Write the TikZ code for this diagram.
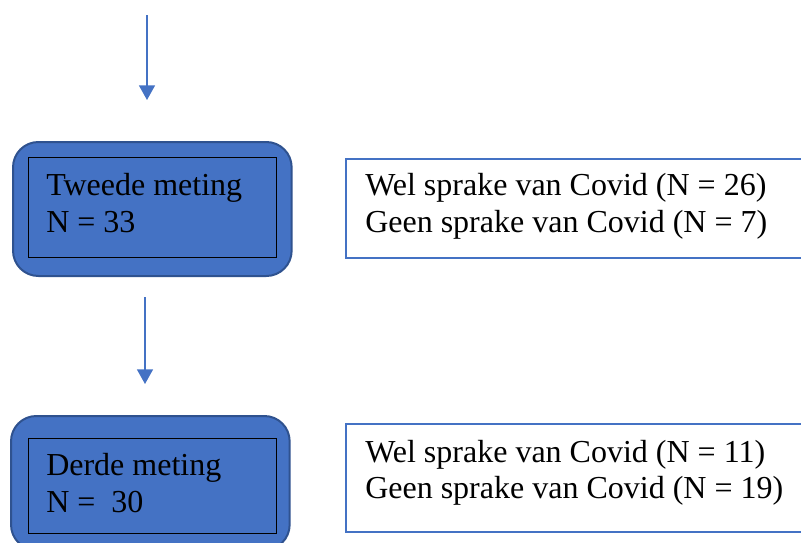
\documentclass[tikz,border=0pt]{standalone}
\usepackage{fontspec}
\setmainfont{Liberation Serif}
\usetikzlibrary{arrows.meta}
\definecolor{officeblue}{HTML}{4472C4}
\definecolor{officedark}{HTML}{2F528F}

\begin{document}
\begin{tikzpicture}[x=0.75pt, y=-0.75pt,
    meting/.style={draw=officedark, line width=1.5pt, fill=officeblue, rounded corners=19pt,
        anchor=north west, minimum width=209pt, minimum height=100.5pt, inner sep=0pt},
    frame/.style={draw=black, line width=0.75pt, anchor=north west, minimum width=186pt, inner sep=0pt},
    result/.style={draw=officeblue, line width=1.6pt, fill=white, anchor=north west,
        minimum width=356pt, inner sep=0pt},
    txt/.style={anchor=base west, inner sep=0pt, font=\fontsize{24}{28}\selectfont},
    flow/.style={draw=officeblue, line width=1.1pt, -{Triangle[width=12pt, length=11pt]}}]
    \clip (0,0) rectangle (801,543);

    % Arrow into second measurement
    \coordinate (in1) at (147,15);
    \coordinate (out1) at (147,100);
    \draw[flow] (in1) -- (out1);

    % Second measurement
    \node[meting] (meting2) at (12,141) {};
    \node[frame, minimum height=75pt] (frame2) at (28,157) {};
    \node[txt] (label2) at (46,195) {Tweede meting};
    \node[txt] (count2) at (46,232) {N = 33};

    \node[result, minimum height=74.25pt] (res2) at (345,158) {};
    \node[txt] (wel2) at (365,195) {Wel sprake van Covid (N = 26)};
    \node[txt] (geen2) at (365,232) {Geen sprake van Covid (N = 7)};

    % Arrow into third measurement
    \coordinate (in2) at (145,297);
    \coordinate (out2) at (145,384);
    \draw[flow] (in2) -- (out2);

    % Third measurement
    \node[meting] (meting3) at (10,415) {};
    \node[frame, minimum height=71.25pt] (frame3) at (28,438) {};
    \node[txt] (label3) at (46,475) {Derde meting};
    \node[txt] (count3) at (46,512) {N = \ 30};

    \node[result, minimum height=81pt] (res3) at (345,423) {};
    \node[txt] (wel3) at (365,462) {Wel sprake van Covid (N = 11)};
    \node[txt] (geen3) at (365,498) {Geen sprake van Covid (N = 19)};
\end{tikzpicture}
\end{document}
